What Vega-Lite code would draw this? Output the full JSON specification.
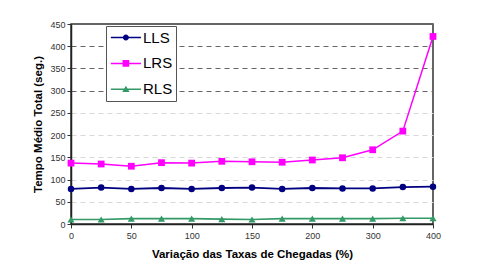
{
  "$schema": "https://vega.github.io/schema/vega-lite/v6.json",
  "width": 362,
  "height": 200,
  "autosize": {"type": "none"},
  "padding": {"left": 71, "top": 24, "right": 69, "bottom": 52},
  "background": "white",
  "config": {
    "font": "Liberation Sans",
    "view": {"stroke": "#333", "strokeWidth": 1.5},
    "axis": {"labelFontSize": 9, "labelColor": "#333", "tickColor": "#333", "domainColor": "#222", "domainWidth": 1.5, "tickSize": 4, "titleFontSize": 11.5, "titleFontWeight": "bold", "titleColor": "#000"}
  },
  "data": {
    "values": [
      {"x": 0, "series": "LLS", "v": 79}, {"x": 25, "series": "LLS", "v": 82}, {"x": 50, "series": "LLS", "v": 79}, {"x": 75, "series": "LLS", "v": 81}, {"x": 100, "series": "LLS", "v": 79}, {"x": 125, "series": "LLS", "v": 81}, {"x": 150, "series": "LLS", "v": 82}, {"x": 175, "series": "LLS", "v": 79}, {"x": 200, "series": "LLS", "v": 81}, {"x": 250, "series": "LLS", "v": 80}, {"x": 300, "series": "LLS", "v": 80}, {"x": 350, "series": "LLS", "v": 83}, {"x": 400, "series": "LLS", "v": 84},
      {"x": 0, "series": "LRS", "v": 137}, {"x": 25, "series": "LRS", "v": 135}, {"x": 50, "series": "LRS", "v": 130}, {"x": 75, "series": "LRS", "v": 138}, {"x": 100, "series": "LRS", "v": 137}, {"x": 125, "series": "LRS", "v": 141}, {"x": 150, "series": "LRS", "v": 140}, {"x": 175, "series": "LRS", "v": 139}, {"x": 200, "series": "LRS", "v": 144}, {"x": 250, "series": "LRS", "v": 149}, {"x": 300, "series": "LRS", "v": 167}, {"x": 350, "series": "LRS", "v": 209}, {"x": 400, "series": "LRS", "v": 422},
      {"x": 0, "series": "RLS", "v": 10}, {"x": 25, "series": "RLS", "v": 10}, {"x": 50, "series": "RLS", "v": 12}, {"x": 75, "series": "RLS", "v": 12}, {"x": 100, "series": "RLS", "v": 12}, {"x": 125, "series": "RLS", "v": 11}, {"x": 150, "series": "RLS", "v": 10}, {"x": 175, "series": "RLS", "v": 12}, {"x": 200, "series": "RLS", "v": 12}, {"x": 250, "series": "RLS", "v": 12}, {"x": 300, "series": "RLS", "v": 12}, {"x": 350, "series": "RLS", "v": 13}, {"x": 400, "series": "RLS", "v": 13}
    ]
  },
  "encoding": {
    "x": {
      "field": "x", "type": "ordinal", "sort": "ascending",
      "scale": {"type": "point", "padding": 0},
      "axis": {"values": [0, 50, 100, 150, 200, 300, 400], "labelAngle": 0, "labelPadding": 3, "title": "Variação das Taxas de Chegadas (%)", "titlePadding": 8, "grid": false}
    },
    "y": {
      "field": "v", "type": "quantitative",
      "scale": {"domain": [0, 450], "nice": false},
      "axis": {
        "values": [0, 50, 100, 150, 200, 250, 300, 350, 400, 450],
        "title": "Tempo Médio Total (seg.)", "titlePadding": 6, "labelPadding": 2,
        "grid": true, "gridDash": [5, 4], "gridWidth": 1,
        "gridColor": {"condition": {"test": "datum.value >= 300", "value": "#666"}, "value": "#d8d8d8"}
      }
    }
  },
  "layer": [
    {"transform": [{"filter": "datum.series === 'LLS'"}], "mark": {"type": "line", "strokeWidth": 1.8, "color": "#000080"}},
    {"transform": [{"filter": "datum.series === 'LRS'"}], "mark": {"type": "line", "strokeWidth": 1.5, "color": "#FF00FF"}},
    {"transform": [{"filter": "datum.series === 'RLS'"}], "mark": {"type": "line", "strokeWidth": 1.6, "color": "#339966"}},
    {"transform": [{"filter": "datum.series === 'LLS'"}], "mark": {"type": "point", "shape": "circle", "filled": true, "opacity": 1, "size": 42, "color": "#000080"}},
    {"transform": [{"filter": "datum.series === 'LRS'"}], "mark": {"type": "point", "shape": "square", "filled": true, "opacity": 1, "size": 46, "color": "#FF00FF"}},
    {"transform": [{"filter": "datum.series === 'RLS'"}], "mark": {"type": "point", "shape": "triangle-up", "filled": true, "opacity": 1, "size": 50, "color": "#339966"}},
    {
      "mark": {"type": "point", "filled": true, "opacity": 0},
      "encoding": {
        "color": {
          "field": "series", "type": "nominal",
          "scale": {"domain": ["LLS", "LRS", "RLS"], "range": ["#000080", "#FF00FF", "#339966"]},
          "legend": {"title": null, "orient": "none", "legendX": 35, "legendY": 2, "padding": 3, "strokeColor": "#555", "fillColor": "white", "labelFontSize": 15, "labelColor": "#000", "labelOffset": 17, "rowPadding": 8.9, "symbolSize": 276, "symbolOpacity": 1, "symbolStrokeWidth": 0}
        },
        "shape": {
          "field": "series", "type": "nominal",
          "scale": {"domain": ["LLS", "LRS", "RLS"], "range": [
            "M-0.8,-0.09H2.82V0.09H-0.8Z M1.37,0A0.36,0.36 0 1 1 0.65,0A0.36,0.36 0 1 1 1.37,0Z",
            "M-0.8,-0.09H2.82V0.09H-0.8Z M0.61,-0.4H1.41V0.4H0.61Z",
            "M-0.8,-0.09H2.82V0.09H-0.8Z M1.01,-0.42L1.45,0.34H0.57Z"
          ]},
          "legend": {"title": null, "orient": "none", "legendX": 35, "legendY": 2, "padding": 3, "strokeColor": "#555", "fillColor": "white", "labelFontSize": 15, "labelColor": "#000", "labelOffset": 17, "rowPadding": 8.9, "symbolSize": 276, "symbolOpacity": 1, "symbolStrokeWidth": 0}
        }
      }
    }
  ]
}
